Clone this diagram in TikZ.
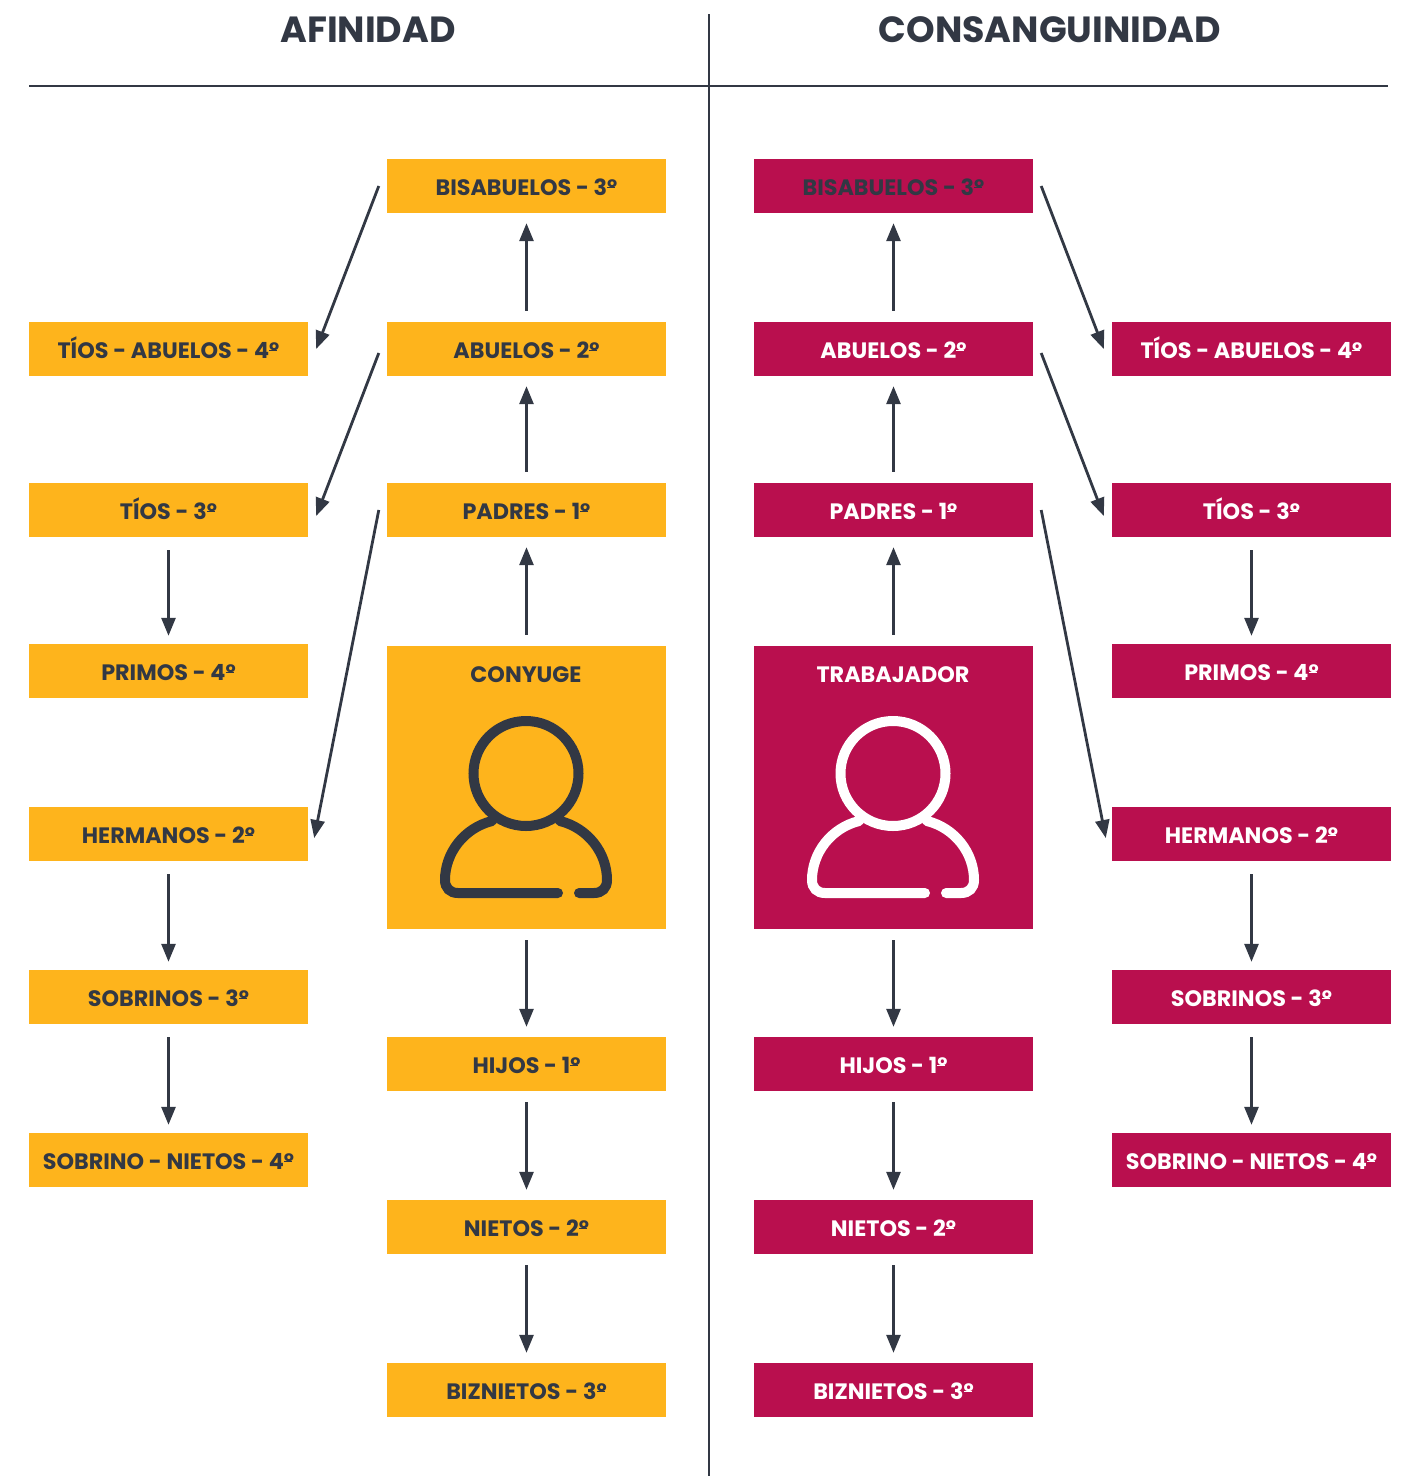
\documentclass[tikz,border=0pt]{standalone}
\usepackage{fontspec}
\usepackage{tikz}
\usetikzlibrary{arrows.meta}
\setmainfont{Poppins}[BoldFont={Poppins Bold}]
\definecolor{darkline}{HTML}{323844}
\definecolor{goldbox}{HTML}{FEB41C}
\definecolor{redbox}{HTML}{B90F4E}
\newcommand{\grado}{\makebox[0pt][l]{\raisebox{0.3em}{\rule{0.36em}{0.07em}}}º}
\tikzset{
  goldnode/.style={fill=goldbox, text=darkline, minimum width=279pt, minimum height=54pt, inner sep=0pt, text height=18pt, text depth=0pt, font=\fontsize{22.3}{22.3}\selectfont\bfseries},
  rednode/.style={goldnode, fill=redbox, text=white},
  bigbox/.style={minimum height=283pt},
  titlenode/.style={text=darkline, inner sep=0pt, font=\fontsize{36.4}{36.4}\selectfont\bfseries},
  link/.style={darkline, line width=2.8pt, -{Triangle[length=18pt,width=14pt]}, shorten >=10pt, shorten <=11pt},
  rule/.style={darkline, line width=2.8pt},
  person/.style={line width=10pt, line cap=round}
}
\begin{document}
\begin{tikzpicture}[x=1pt,y=-1pt]
  \useasboundingbox (0,0) rectangle (1407,1476);

  % headings and rules
  \node[titlenode] (titleAf) at (368,30) {AFINIDAD};
  \node[titlenode] (titleCo) at (1050,30) {CONSANGUINIDAD};
  \coordinate (ruleL) at (29,86);
  \coordinate (ruleR) at (1388,86);
  \coordinate (ruleT) at (709,14);
  \coordinate (ruleB) at (709,1476);
  \draw[rule] (ruleL) -- (ruleR);
  \draw[rule] (ruleT) -- (ruleB);

  % afinidad, centre column
  \node[goldnode] (afBis) at (526.5,186) {BISABUELOS - 3\grado};
  \node[goldnode] (afAbu) at (526.5,349) {ABUELOS - 2\grado};
  \node[goldnode] (afPad) at (526.5,510) {PADRES - 1\grado};
  \node[goldnode,bigbox] (afCon) at (526.5,787.5) {};
  \node[goldnode,minimum height=0pt] (afConText) at (526,673) {CONYUGE};
  \node[goldnode] (afHij) at (526.5,1064) {HIJOS - 1\grado};
  \node[goldnode] (afNie) at (526.5,1227) {NIETOS - 2\grado};
  \node[goldnode] (afBiz) at (526.5,1390) {BIZNIETOS - 3\grado};

  % afinidad, outer column
  \node[goldnode] (afTab) at (168.5,349) {TÍOS - ABUELOS - 4\grado};
  \node[goldnode] (afTio) at (168.5,510) {TÍOS - 3\grado};
  \node[goldnode] (afPri) at (168.5,671) {PRIMOS - 4\grado};
  \node[goldnode] (afHer) at (168.5,834) {HERMANOS - 2\grado};
  \node[goldnode] (afSob) at (168.5,997) {SOBRINOS - 3\grado};
  \node[goldnode] (afSni) at (168.5,1160) {SOBRINO - NIETOS - 4\grado};

  % consanguinidad, centre column
  \node[rednode,text=darkline] (coBis) at (893.5,186) {BISABUELOS - 3\grado};
  \node[rednode] (coAbu) at (893.5,349) {ABUELOS - 2\grado};
  \node[rednode] (coPad) at (893.5,510) {PADRES - 1\grado};
  \node[rednode,bigbox] (coTra) at (893.5,787.5) {};
  \node[rednode,fill=none,minimum height=0pt] (coTraText) at (893,673) {TRABAJADOR};
  \node[rednode] (coHij) at (893.5,1064) {HIJOS - 1\grado};
  \node[rednode] (coNie) at (893.5,1227) {NIETOS - 2\grado};
  \node[rednode] (coBiz) at (893.5,1390) {BIZNIETOS - 3\grado};

  % consanguinidad, outer column
  \node[rednode] (coTab) at (1251.5,349) {TÍOS - ABUELOS - 4\grado};
  \node[rednode] (coTio) at (1251.5,510) {TÍOS - 3\grado};
  \node[rednode] (coPri) at (1251.5,671) {PRIMOS - 4\grado};
  \node[rednode] (coHer) at (1251.5,834) {HERMANOS - 2\grado};
  \node[rednode] (coSob) at (1251.5,997) {SOBRINOS - 3\grado};
  \node[rednode] (coSni) at (1251.5,1160) {SOBRINO - NIETOS - 4\grado};

  % person icons
  \foreach \cx/\iconcol in {526/darkline,893/white}{
    \draw[person,\iconcol] (\cx,773.5) circle (52.5);
    \draw[person,\iconcol] (\cx-34,821) .. controls (\cx-62,828) and (\cx-81,853) .. (\cx-81,880)
      .. controls (\cx-81,888) and (\cx-76,893) .. (\cx-68,893) -- (\cx+32,893);
    \draw[person,\iconcol] (\cx+34,821) .. controls (\cx+62,828) and (\cx+81,853) .. (\cx+81,880)
      .. controls (\cx+81,888) and (\cx+76,893) .. (\cx+68,893) -- (\cx+53,893);
  }

  % vertical links
  \foreach \from/\to in {afAbu/afBis,afPad/afAbu,afCon/afPad,coAbu/coBis,coPad/coAbu,coTra/coPad}{
    \draw[link] (\from.north) -- (\to.south);
  }
  \foreach \from/\to in {afCon/afHij,afHij/afNie,afNie/afBiz,coTra/coHij,coHij/coNie,coNie/coBiz}{
    \draw[link] (\from.south) -- (\to.north);
  }
  \foreach \from/\to in {afTio/afPri,afHer/afSob,afSob/afSni,coTio/coPri,coHer/coSob,coSob/coSni}{
    \draw[link,shorten >=8pt,shorten <=13pt] (\from.south) -- (\to.north);
  }

  % slanted links
  \draw[link,shorten >=0pt,shorten <=0pt] ([xshift=-8pt]afBis.west) -- ([xshift=8pt]afTab.east);
  \draw[link,shorten >=0pt,shorten <=0pt] ([xshift=-8pt,yshift=-4pt]afAbu.west) -- ([xshift=8pt,yshift=-6pt]afTio.east);
  \draw[link,shorten >=0pt,shorten <=0pt] ([xshift=-8pt]afPad.west) -- ([xshift=6pt,yshift=-4pt]afHer.east);
  \draw[link,shorten >=0pt,shorten <=0pt] ([xshift=8pt]coBis.east) -- ([xshift=-8pt]coTab.west);
  \draw[link,shorten >=0pt,shorten <=0pt] ([xshift=8pt,yshift=-4pt]coAbu.east) -- ([xshift=-8pt,yshift=-6pt]coTio.west);
  \draw[link,shorten >=0pt,shorten <=0pt] ([xshift=8pt]coPad.east) -- ([xshift=-6pt,yshift=-4pt]coHer.west);
\end{tikzpicture}
\end{document}
